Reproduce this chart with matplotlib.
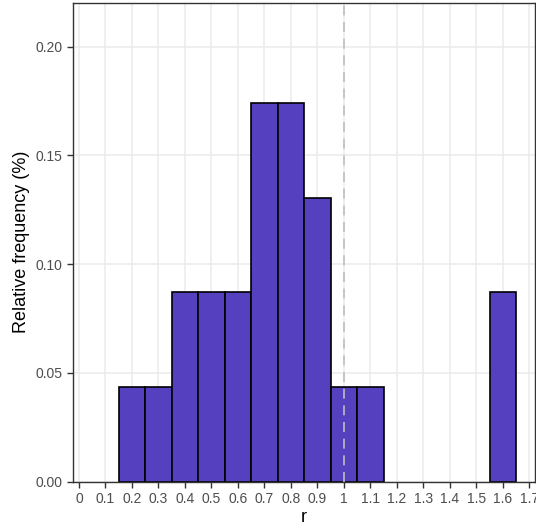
import numpy as np
import matplotlib
matplotlib.use("Agg")
import matplotlib.pyplot as plt

plt.rcParams['font.family'] = ['Liberation Sans', 'DejaVu Sans']

# histogram bins (centres) and relative frequencies, n = 23
bin_centers = [0.2, 0.3, 0.4, 0.5, 0.6, 0.7, 0.8, 0.9, 1.0, 1.1, 1.6]
counts = [1, 1, 2, 2, 2, 4, 4, 3, 1, 1, 2]
rel_freq = np.array(counts) / sum(counts)
bin_width = 0.1

x_ticks = np.round(np.arange(0, 1.71, 0.1), 1)
x_labels = ["0" if t == 0 else ("1" if t == 1 else f"{t:g}") for t in x_ticks]
y_ticks = [0.0, 0.05, 0.10, 0.15, 0.20]
y_labels = ["0.00", "0.05", "0.10", "0.15", "0.20"]

fig = plt.figure(figsize=(5.36, 5.25), dpi=100)
ax = fig.add_axes([73/536, 43.5/525, 462/536, 478.5/525])

ax.bar(bin_centers, rel_freq, width=bin_width, color="#5540BF",
       edgecolor="black", linewidth=1.2, zorder=2)
ax.axvline(1.0, color="#BEBEBE", linestyle=(0, (6, 4)), linewidth=1.2, zorder=3)

ax.set_xlim(-0.0226, 1.721)
ax.set_ylim(0, 0.2201)
ax.set_xticks(x_ticks)
ax.set_xticklabels(x_labels)
ax.set_yticks(y_ticks)
ax.set_yticklabels(y_labels)

ax.grid(True, color="#EBEBEB", linewidth=1.1, zorder=0)
ax.set_axisbelow(True)
for s in ax.spines.values():
    s.set_color("#333333")
    s.set_linewidth(1.0)

ax.tick_params(axis="both", colors="#333333", labelcolor="#4D4D4D",
               labelsize=10, length=4, width=1)
ax.set_xlabel("r", fontsize=13, labelpad=2)
ax.set_ylabel("Relative frequency (%)", fontsize=13, labelpad=4)

fig.savefig("out.png", dpi=100)
